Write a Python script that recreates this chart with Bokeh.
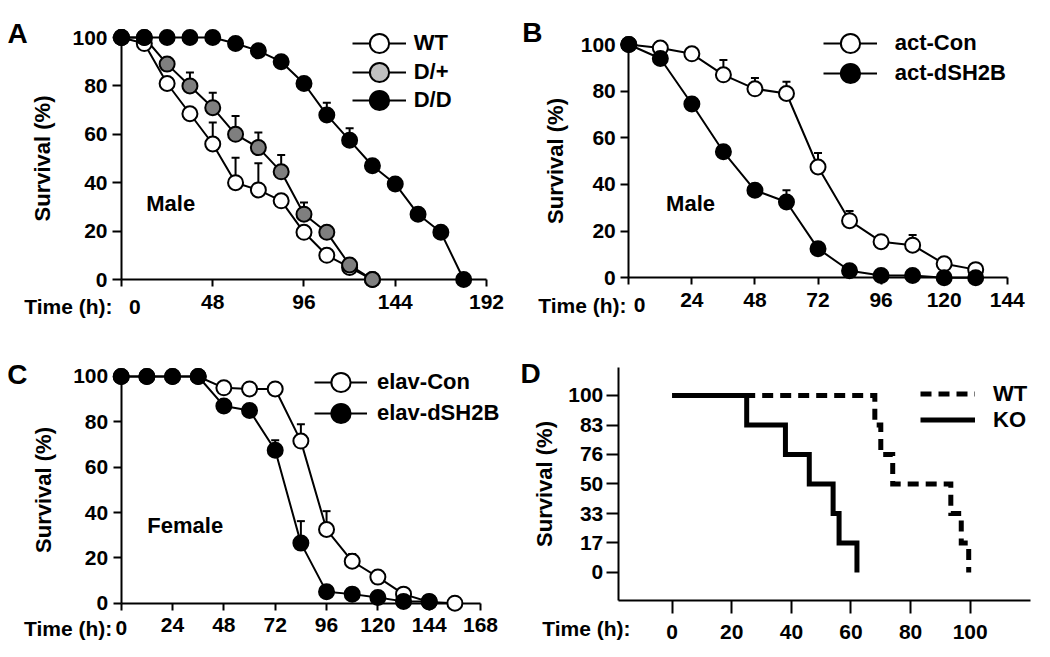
from bokeh.plotting import figure
from bokeh.models import (ColumnDataSource, Whisker, TeeHead, Legend, LegendItem,
                          Label, FixedTicker, Range1d)
from bokeh.layouts import column, row
from bokeh.embed import file_html
from bokeh.resources import INLINE

FONT = "Liberation Sans"

# ---------------- data ----------------
# Panel A (male)
a_time = [0, 12, 24, 36, 48, 60, 72, 84, 96, 108, 120, 132, 144, 156, 168, 180]
a_wt = [100, 97.5, 81, 68.5, 56, 40, 37, 32.5, 19.5, 10, 5, 0]
a_wt_err = [0, 0, 0, 0, 8.9, 10.3, 11, 0, 0, 0, 0, 0]
a_dp = [100, 100, 89, 80, 71, 60, 54.5, 44.5, 27, 19.5, 6, 0]
a_dp_err = [0, 0, 0, 5.5, 6.2, 7.6, 6.2, 6.9, 4.8, 0, 0, 0]
a_dd = [100, 100, 100, 100, 100, 97.5, 94.5, 90, 81, 68, 57.5, 47, 39.5, 27, 19.5, 0]
a_dd_err = [0, 0, 0, 0, 0, 0, 0, 0, 0, 5, 5, 0, 0, 0, 0, 0]
a_xticks = [0, 48, 96, 144, 192]

# Panel B (male)
b_time = [0, 12, 24, 36, 48, 60, 72, 84, 96, 108, 120, 132]
b_con = [100, 98.5, 96, 87, 81, 79, 47.5, 24.5, 15.5, 14, 6, 3.5]
b_con_err = [0, 0, 0, 6.4, 4.6, 5, 6, 4.1, 0, 4.3, 0, 0]
b_sh = [100, 94, 74.5, 54, 37.5, 32.5, 12.5, 3, 1, 1, 0, 0]
b_sh_err = [0, 0, 0, 0, 0, 5, 0, 0, 0, 0, 0, 0]
b_xticks = [0, 24, 48, 72, 96, 120, 144]

# Panel C (female)
c_time = [0, 12, 24, 36, 48, 60, 72, 84, 96, 108, 120, 132, 144, 156]
c_con = [100, 100, 100, 100, 95, 94.5, 94.5, 71.5, 32.5, 18.5, 11.5, 4, 0.5, 0]
c_con_err = [0, 0, 0, 0, 0, 0, 0, 7.4, 8.1, 3.2, 0, 0, 0, 0]
c_sh = [100, 100, 100, 100, 87, 85, 67.5, 26.5, 5, 4, 2.5, 0.8, 0.8]
c_sh_err = [0, 0, 0, 0, 0, 0, 4.4, 9.7, 0, 0, 0, 0, 0]
c_xticks = [0, 24, 48, 72, 96, 120, 144, 168]

# Panel D (Kaplan-Meier)
d_levels = [100, 83.33, 66.67, 50, 33.33, 16.67, 0]
d_level_labels = ["100", "83", "76", "50", "33", "17", "0"]
d_wt_time = [0, 68, 70, 74, 93.5, 97, 99.5]
d_ko_time = [0, 25, 38, 46, 54, 56, 62]
d_xticks = [0, 20, 40, 60, 80, 100]

surv_ticks = [0, 20, 40, 60, 80, 100]

GRAY = "#7f7f7f"
LIGHT_GRAY = "#c0c0c0"


# ---------------- helpers ----------------
def base_fig(w, h, xr, yr):
    p = figure(width=w, height=h, x_range=Range1d(*xr), y_range=Range1d(*yr),
               output_backend="svg", toolbar_location=None, title=None,
               min_border_left=0, min_border_right=0,
               min_border_top=0, min_border_bottom=0)
    p.xgrid.visible = False
    p.ygrid.visible = False
    p.outline_line_color = None
    p.background_fill_color = "white"
    p.border_fill_color = "white"
    for ax in (p.xaxis[0], p.yaxis[0]):
        ax.axis_line_width = 2
        ax.axis_line_color = "black"
        ax.major_tick_line_width = 2
        ax.major_tick_line_color = "black"
        ax.major_tick_in = 0
        ax.minor_tick_line_color = None
        ax.major_label_text_font = FONT
        ax.major_label_text_font_style = "bold"
        ax.major_label_text_font_size = "21px"
        ax.major_label_text_color = "black"
        ax.axis_label_text_font = FONT
        ax.axis_label_text_font_style = "bold"
        ax.axis_label_text_font_size = "22px"
        ax.axis_label_text_color = "black"
    return p


def series(p, t, v, err, fill):
    tt = t[:len(v)]
    fills = fill if isinstance(fill, list) else [fill] * len(v)
    src = ColumnDataSource(dict(x=tt, y=v, fill=fills))
    ln = p.line("x", "y", source=src, line_color="black", line_width=2)
    ex = [x for x, e in zip(tt, err) if e > 0]
    elo = [y for y, e in zip(v, err) if e > 0]
    ehi = [y + e for y, e in zip(v, err) if e > 0]
    if ex:
        esrc = ColumnDataSource(dict(x=ex, lower=elo, upper=ehi))
        p.add_layout(Whisker(source=esrc, base="x", lower="lower", upper="upper",
                             dimension="height", line_color="black", line_width=2,
                             upper_head=TeeHead(size=8, line_color="black", line_width=2),
                             lower_head=None))
    sc = p.scatter("x", "y", source=src, marker="circle", size=15, fill_color="fill",
                   line_color="black", line_width=2, level="overlay")
    return ln, sc


def survival_axes(p, xticks, xmax, tick_out_y=9, tick_out_x=7, label_standoff=14):
    ya, xa = p.yaxis[0], p.xaxis[0]
    ya.fixed_location = 0
    xa.fixed_location = 0
    ya.bounds = (0, 100)
    xa.bounds = (0, xmax)
    ya.ticker = FixedTicker(ticks=surv_ticks, minor_ticks=[])
    xa.ticker = FixedTicker(ticks=xticks, minor_ticks=[])
    ya.major_tick_out = tick_out_y
    xa.major_tick_out = tick_out_x
    ya.major_label_standoff = 5
    xa.major_label_standoff = 8
    xa.major_label_overrides = {0: ""}
    ya.axis_label = "Survival (%)"
    ya.axis_label_standoff = label_standoff


def txt(p, text, x, y, size="22px", align="left"):
    p.add_layout(Label(x=x, y=y, text=text,
                       text_font=FONT, text_font_style="bold", text_font_size=size,
                       text_color="black", text_align=align, text_baseline="middle"))


def time_label(p, x_colon, x_zero, y):
    txt(p, "Time (h):", x_colon, y, size="21px", align="right")
    if x_zero is not None:
        txt(p, "0", x_zero, y, size="21px", align="left")


def one_legend(p, label, renderers, loc, gw, gh, standoff, index=None):
    item = LegendItem(label=label, renderers=renderers)
    if index is not None:
        item.index = index
    p.add_layout(Legend(items=[item], location=loc, glyph_width=gw, glyph_height=gh,
                        spacing=0, padding=0, margin=0, label_standoff=standoff,
                        border_line_color=None, background_fill_alpha=0,
                        label_text_font=FONT, label_text_font_style="bold",
                        label_text_font_size="22px", label_text_color="black"))


# ---------------- Panel A ----------------
pA = base_fig(515, 330, (-63.65, 207.26), (-21.07, 115.29))
survival_axes(pA, a_xticks, 192, label_standoff=14)
lw, sw = series(pA, a_time, a_wt, a_wt_err, "white")
# first D/+ point is hidden under the D/D marker; its light fill is what the legend shows
lp, sp = series(pA, a_time, a_dp, a_dp_err, [LIGHT_GRAY] + [GRAY] * (len(a_dp) - 1))
ld, sd = series(pA, a_time, a_dd, a_dd_err, "black")
one_legend(pA, "WT", [lw, sw], (351.7, 262.7), 54, 48, 8)
one_legend(pA, "D/+", [lp, sp], (351.7, 234.3), 54, 48, 8, index=0)
one_legend(pA, "D/D", [ld, sd], (351.7, 206.0), 54, 48, 8)
txt(pA, "Male", 13, 31.3)
txt(pA, "A", -59.97, 101.86, size="28px")
time_label(pA, -4.73, 3.95, -11.16)

# ---------------- Panel B ----------------
pB = base_fig(530, 330, (-43.11, 158.56), (-22.59, 118.86))
survival_axes(pB, b_xticks, 144, tick_out_y=8, label_standoff=9)
lc, sc_ = series(pB, b_time, b_con, b_con_err, "white")
ls, ss = series(pB, b_time, b_sh, b_sh_err, "black")
one_legend(pB, "act-Con", [lc, sc_], (307.7, 262.7), 54, 48, 18)
one_legend(pB, "act-dSH2B", [ls, ss], (307.7, 233.3), 54, 48, 18)
txt(pB, "Male", 14.2, 31.7)
txt(pB, "B", -40.56, 105.27, size="28px")
time_label(pB, -0.88, 1.9, -11.87)

# ---------------- Panel C ----------------
pC = base_fig(515, 322, (-56.43, 184.34), (-21.75, 120.29))
survival_axes(pC, c_xticks, 168, tick_out_y=8, label_standoff=14)
lc2, sc2 = series(pC, c_time, c_con, c_con_err, "white")
ls2, ss2 = series(pC, c_time, c_sh, c_sh_err, "black")
one_legend(pC, "elav-Con", [lc2, sc2], (314, 246.3), 53, 48, 10)
one_legend(pC, "elav-dSH2B", [ls2, ss2], (314, 214.7), 53, 48, 10)
txt(pC, "Female", 12.2, 34.3)
txt(pC, "C", -53.3, 100.88, size="28px")
time_label(pC, -4.2, -2.66, -11.16)

# ---------------- Panel D ----------------
pD = base_fig(530, 322, (-52.58, 125.27), (-45.2, 136.72))
ya, xa = pD.yaxis[0], pD.xaxis[0]
ya.fixed_location = -18.1
xa.fixed_location = -15.8
ya.bounds = (-15.8, 116.0)
xa.bounds = (-18.1, 120.2)
ya.ticker = FixedTicker(ticks=d_levels, minor_ticks=[])
ya.major_label_overrides = {lv: lb for lv, lb in zip(d_levels, d_level_labels)}
xa.ticker = FixedTicker(ticks=d_xticks, minor_ticks=[])
ya.major_tick_out = 12
xa.major_tick_out = 13
ya.major_label_standoff = 3
xa.major_label_standoff = 12
ya.axis_label = "Survival (%)"
ya.axis_label_standoff = 8
wt_src = ColumnDataSource(dict(x=d_wt_time, y=d_levels))
ko_src = ColumnDataSource(dict(x=d_ko_time, y=d_levels))
lwt = pD.step("x", "y", source=wt_src, mode="after", line_color="black", line_width=5,
              line_dash="11 7", line_join="miter")
lko = pD.step("x", "y", source=ko_src, mode="after", line_color="black", line_width=5,
              line_join="miter")
pD.add_layout(Legend(items=[LegendItem(label="WT", renderers=[lwt]),
                            LegendItem(label="KO", renderers=[lko])],
                     location=(405, 219.5), glyph_width=55, glyph_height=25,
                     spacing=0, padding=0, margin=0, label_standoff=18,
                     border_line_color=None, background_fill_alpha=0,
                     label_text_font=FONT, label_text_font_style="bold",
                     label_text_font_size="22px", label_text_color="black"))
txt(pD, "D", -50.9, 112.26, size="28px")
time_label(pD, -14.0, None, -31.64)

layout = column(row(pA, pB), row(pC, pD))
open("out.html", "w").write(file_html(layout, INLINE, "Survival"))
